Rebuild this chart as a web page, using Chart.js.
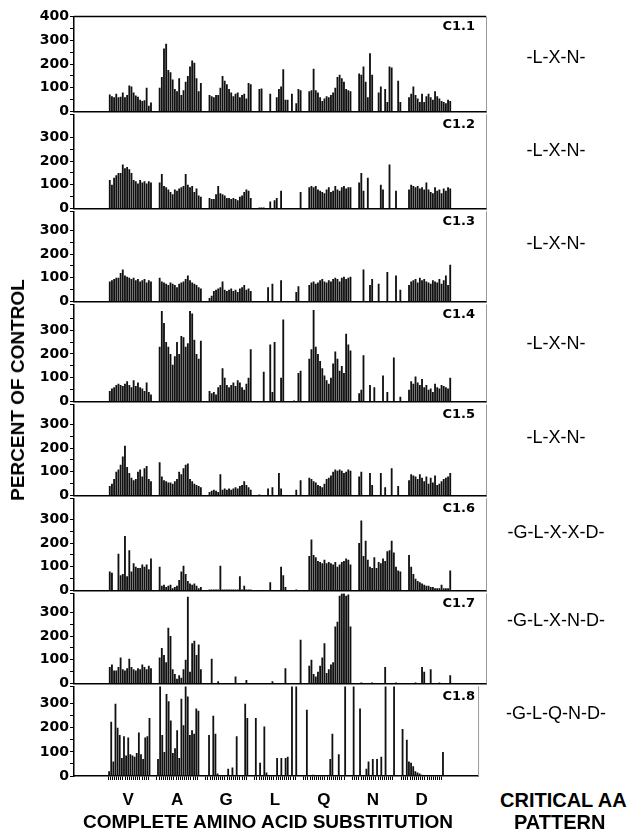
<!DOCTYPE html>
<html>
<head>
<meta charset="utf-8">
<script src="https://cdn.jsdelivr.net/npm/chart.js@4.4.1/dist/chart.umd.min.js"></script>
<style>
  body { margin: 0; background: #fff; }
  #page { position: relative; width: 643px; height: 832px; overflow: hidden; background: #fff; font-family: "Liberation Sans", Arial, sans-serif; color: #000; }
  canvas { position: absolute; left: 0; }
  .lbl { position: absolute; white-space: nowrap; }
  .panel { font: bold 13px "DejaVu Sans", sans-serif; }
  .pattern { font-size: 18px; transform: translate(-50%, -50%); }
  .title { font-weight: bold; font-size: 19px; transform: translate(-50%, -50%); }
  .crit { font-weight: bold; font-size: 20px; transform: translateY(-50%); }
</style>
</head>
<body>
<div id="page"></div>
<script>
// amino acid positions that were substituted
const groups = ["V", "A", "G", "L", "Q", "N", "D"];
const panelNames = ["C1.1", "C1.2", "C1.3", "C1.4", "C1.5", "C1.6", "C1.7", "C1.8"];
const patterns = ["-L-X-N-", "-L-X-N-", "-L-X-N-", "-L-X-N-", "-L-X-N-", "-G-L-X-X-D-", "-G-L-X-N-D-", "-G-L-Q-N-D-"];
const yTicks = [0, 100, 200, 300, 400];

// percent of control, one row of 20 substitutions per position
const c11 = [
  [72, 65, 60, 75, 60, 62, 80, 60, 70, 110, 105, 80, 68, 62, 50, 45, 48, 100, 25, 38],
  [100, 145, 265, 285, 175, 165, 135, 95, 85, 140, 70, 90, 125, 150, 190, 215, 205, 140, 85, 120],
  [70, 65, 60, 70, 70, 100, 150, 130, 115, 95, 80, 65, 75, 80, 60, 70, 75, 55, 120, 115],
  [95, 97, 0, 0, 0, 75, 0, 0, 60, 95, 105, 178, 50, 50, 0, 75, 0, 35, 95, 90],
  [85, 90, 180, 90, 80, 60, 45, 55, 65, 60, 70, 80, 100, 145, 155, 140, 125, 95, 90, 85],
  [160, 155, 190, 125, 60, 245, 155, 0, 0, 80, 105, 0, 95, 40, 190, 185, 0, 0, 130, 40],
  [60, 75, 105, 70, 55, 40, 75, 40, 65, 75, 60, 50, 85, 65, 55, 45, 40, 35, 50, 45]
];
const c12 = [
  [120, 100, 130, 140, 150, 150, 185, 170, 175, 165, 150, 120, 115, 105, 120, 110, 115, 105, 115, 110],
  [110, 145, 95, 90, 80, 70, 60, 80, 75, 85, 90, 95, 145, 100, 90, 95, 70, 85, 55, 50],
  [45, 40, 40, 60, 95, 65, 60, 55, 45, 45, 40, 45, 40, 35, 50, 55, 70, 80, 75, 45],
  [5, 5, 5, 0, 0, 30, 0, 35, 45, 0, 75, 0, 0, 0, 0, 0, 0, 0, 0, 70],
  [90, 95, 90, 95, 80, 75, 70, 65, 80, 90, 70, 75, 95, 80, 75, 90, 95, 85, 90, 90],
  [110, 150, 75, 0, 130, 0, 0, 0, 0, 0, 100, 80, 0, 0, 185, 0, 0, 75, 0, 0],
  [80, 100, 95, 90, 95, 85, 90, 80, 110, 80, 70, 65, 90, 75, 80, 65, 85, 75, 90, 85]
];
const c13 = [
  [85, 90, 95, 100, 100, 120, 135, 110, 105, 100, 95, 100, 90, 95, 85, 90, 95, 80, 90, 85],
  [100, 85, 80, 75, 70, 80, 75, 70, 60, 75, 80, 85, 95, 110, 90, 80, 75, 70, 60, 55],
  [15, 25, 45, 50, 55, 60, 85, 50, 45, 50, 55, 45, 50, 40, 55, 60, 70, 50, 55, 45],
  [0, 0, 0, 0, 60, 0, 75, 0, 0, 0, 90, 0, 0, 0, 0, 0, 0, 40, 65, 0],
  [70, 80, 85, 75, 80, 90, 95, 85, 80, 90, 85, 95, 100, 95, 85, 100, 105, 95, 100, 105],
  [0, 0, 135, 0, 0, 70, 95, 0, 0, 75, 0, 0, 0, 125, 0, 0, 0, 110, 0, 50],
  [70, 85, 90, 95, 80, 100, 90, 95, 85, 80, 75, 90, 85, 80, 95, 75, 90, 110, 70, 155]
];
const c14 = [
  [45, 55, 60, 70, 75, 70, 65, 75, 85, 70, 60, 90, 65, 80, 60, 55, 45, 80, 40, 30],
  [230, 380, 330, 250, 230, 200, 155, 190, 250, 200, 275, 270, 230, 245, 380, 370, 260, 200, 180, 255],
  [45, 35, 40, 30, 60, 70, 140, 100, 70, 60, 70, 80, 65, 90, 80, 60, 50, 75, 100, 220],
  [0, 0, 125, 0, 0, 240, 40, 250, 0, 0, 100, 345, 0, 0, 0, 0, 5, 0, 120, 130],
  [180, 220, 385, 230, 200, 170, 140, 110, 90, 75, 100, 160, 210, 180, 130, 150, 120, 285, 240, 215],
  [35, 50, 195, 0, 0, 70, 0, 60, 0, 0, 0, 110, 0, 40, 0, 0, 185, 0, 0, 20],
  [50, 85, 75, 105, 80, 70, 95, 60, 70, 50, 55, 40, 75, 60, 55, 70, 65, 60, 55, 100]
];
const c15 = [
  [40, 50, 70, 100, 110, 130, 165, 210, 120, 95, 75, 65, 70, 100, 110, 80, 115, 125, 70, 60],
  [140, 80, 65, 60, 55, 55, 50, 60, 70, 100, 90, 115, 130, 135, 70, 60, 50, 45, 40, 35],
  [15, 20, 25, 20, 15, 90, 25, 30, 25, 30, 25, 30, 35, 30, 40, 45, 60, 45, 35, 25],
  [5, 0, 0, 0, 30, 0, 35, 0, 0, 95, 30, 0, 0, 0, 0, 0, 0, 25, 0, 65],
  [75, 70, 60, 55, 45, 40, 35, 50, 70, 75, 85, 100, 110, 105, 110, 105, 95, 100, 110, 105],
  [80, 100, 0, 0, 0, 95, 45, 0, 0, 0, 95, 0, 35, 0, 0, 115, 0, 0, 40, 0],
  [65, 90, 85, 80, 70, 90, 75, 60, 80, 50, 75, 55, 85, 45, 50, 60, 70, 75, 80, 95]
];
const c16 = [
  [80, 75, 0, 0, 155, 65, 70, 230, 60, 170, 80, 115, 100, 95, 95, 110, 100, 110, 90, 135],
  [100, 20, 25, 15, 20, 25, 10, 15, 20, 45, 80, 105, 70, 40, 30, 25, 30, 20, 10, 15],
  [5, 5, 5, 5, 5, 105, 5, 5, 5, 5, 5, 5, 5, 5, 60, 5, 20, 5, 5, 5],
  [0, 0, 0, 0, 0, 35, 0, 0, 0, 0, 100, 65, 15, 0, 0, 0, 0, 5, 0, 0],
  [145, 215, 150, 140, 125, 120, 115, 130, 115, 120, 115, 110, 120, 100, 110, 120, 125, 135, 130, 110],
  [200, 295, 145, 210, 130, 100, 95, 140, 95, 120, 115, 135, 125, 165, 170, 210, 160, 100, 85, 80],
  [150, 100, 70, 50, 40, 35, 30, 25, 20, 20, 15, 15, 10, 10, 10, 25, 10, 10, 10, 85]
];
const c17 = [
  [70, 80, 55, 55, 70, 110, 60, 55, 65, 105, 70, 60, 55, 65, 60, 80, 70, 60, 75, 65],
  [110, 150, 120, 90, 235, 200, 60, 40, 20, 35, 25, 60, 100, 365, 50, 170, 180, 120, 165, 60],
  [0, 105, 0, 0, 10, 0, 0, 0, 0, 0, 0, 0, 30, 0, 0, 0, 0, 15, 0, 0],
  [0, 0, 0, 0, 0, 0, 10, 0, 0, 0, 0, 0, 65, 0, 0, 0, 0, 0, 0, 185],
  [75, 100, 40, 30, 50, 75, 110, 170, 45, 60, 80, 90, 240, 260, 370, 380, 380, 370, 375, 240],
  [0, 5, 0, 0, 0, 0, 5, 0, 0, 0, 0, 0, 70, 0, 0, 0, 0, 5, 0, 0],
  [0, 0, 0, 5, 0, 0, 70, 50, 0, 0, 60, 0, 0, 0, 5, 0, 0, 0, 0, 35]
];
const c18 = [
  [20, 225, 60, 300, 200, 170, 75, 165, 85, 160, 90, 85, 80, 95, 180, 90, 70, 160, 165, 240],
  [70, 390, 170, 100, 340, 310, 230, 95, 115, 190, 75, 320, 210, 390, 330, 170, 190, 175, 280, 270],
  [0, 170, 0, 250, 175, 10, 0, 0, 0, 0, 30, 0, 35, 0, 165, 0, 0, 0, 300, 240],
  [240, 0, 55, 0, 205, 15, 0, 0, 0, 0, 75, 0, 75, 0, 75, 80, 0, 390, 0, 390],
  [0, 275, 0, 0, 5, 0, 0, 0, 0, 0, 0, 0, 70, 175, 0, 0, 90, 0, 0, 390],
  [390, 0, 0, 280, 0, 0, 30, 60, 0, 70, 0, 70, 0, 80, 0, 390, 0, 0, 0, 390],
  [195, 0, 150, 60, 55, 40, 20, 15, 10, 5, 0, 0, 0, 0, 0, 0, 0, 0, 0, 100]
];
const panels = [c11, c12, c13, c14, c15, c16, c17, c18];

// layout (px)
const zeroLines = [113, 210, 303, 403, 497, 592, 685, 776];
const patternY = [57, 150, 243, 343, 437, 532, 620, 713];
const firstTop = 15;
const pxPer100 = 24.5;
const axisLeft = 74;
const axisRight = 486;
const padSlots = 16, gapSlots = 3;

// category slots: empty padding, 20 bars per position, small gaps
const labels = [];
const isBar = [];
const addEmpty = n => { for (let i = 0; i < n; i++) { labels.push(""); isBar.push(false); } };
addEmpty(padSlots);
groups.forEach((g, gi) => {
  for (let j = 0; j < 20; j++) { labels.push(j === 9 ? g : ""); isBar.push(true); }
  if (gi < groups.length - 1) addEmpty(gapSlots);
});
addEmpty(padSlots);

function flatten(rows) {
  const out = [];
  for (let i = 0; i < padSlots; i++) out.push(null);
  rows.forEach((row, gi) => {
    row.forEach(v => out.push(v));
    if (gi < rows.length - 1) for (let j = 0; j < gapSlots; j++) out.push(null);
  });
  for (let i = 0; i < padSlots; i++) out.push(null);
  return out;
}

const framePlugin = {
  id: "frame",
  afterDraw(chart, args, opts) {
    const { ctx, chartArea } = chart;
    ctx.save();
    ctx.strokeStyle = "#9a9a9a";
    ctx.lineWidth = 1;
    ctx.beginPath();
    ctx.moveTo(chartArea.right + 0.5, chartArea.top);
    ctx.lineTo(chartArea.right + 0.5, chartArea.bottom);
    ctx.stroke();
    if (opts.top) {
      ctx.strokeStyle = "#000";
      ctx.lineWidth = 1.5;
      ctx.beginPath();
      ctx.moveTo(chartArea.left, chartArea.top);
      ctx.lineTo(chartArea.right, chartArea.top);
      ctx.stroke();
    }
    ctx.restore();
  }
};

const page = document.getElementById("page");

panels.forEach((rows, k) => {
  const last = k === panels.length - 1;
  const top = k === 0 ? firstTop : zeroLines[k - 1];
  const h = zeroLines[k] - top;
  const padTop = 8;
  const padBottom = last ? 0 : 8;
  const axisH = last ? 40 : 0;

  const canvas = document.createElement("canvas");
  canvas.width = axisRight + 1;
  canvas.height = h + padTop + padBottom + axisH;
  canvas.style.top = (top - padTop) + "px";
  page.appendChild(canvas);

  new Chart(canvas, {
    type: "bar",
    data: {
      labels: labels,
      datasets: [{
        data: flatten(rows),
        backgroundColor: "#111",
        barPercentage: 0.85,
        categoryPercentage: 1
      }]
    },
    options: {
      responsive: false,
      animation: false,
      devicePixelRatio: 1,
      layout: { padding: { top: padTop, bottom: padBottom, left: 0, right: 1 } },
      plugins: {
        legend: { display: false },
        tooltip: { enabled: false },
        frame: { top: k === 0 }
      },
      scales: {
        x: {
          afterFit: s => { s.height = axisH; },
          border: { display: true, color: "#000", width: 1.5 },
          grid: {
            display: last,
            drawOnChartArea: false,
            tickLength: 4,
            tickColor: c => (isBar[c.index] ? "#000" : "rgba(0,0,0,0)")
          },
          ticks: {
            display: last,
            autoSkip: false,
            maxRotation: 0,
            minRotation: 0,
            padding: 10,
            color: "#000",
            font: { family: "Liberation Sans", weight: "bold", size: 17 },
            callback: (v, i) => labels[i]
          }
        },
        y: {
          min: 0,
          max: h / pxPer100 * 100,
          afterFit: s => { s.width = axisLeft; },
          border: { display: true, color: "#000", width: 1.5 },
          grid: { drawOnChartArea: false, tickLength: 4, tickColor: "#000" },
          ticks: {
            stepSize: 50,
            autoSkip: false,
            padding: 1,
            color: "#000",
            font: { family: "DejaVu Sans", weight: "bold", size: 14 },
            callback: v => (yTicks.includes(v) && (v < 400 || k === 0) ? v : "")
          }
        }
      }
    },
    plugins: [framePlugin]
  });

  const name = document.createElement("div");
  name.className = "lbl panel";
  name.textContent = panelNames[k];
  name.style.right = (643 - 475) + "px";
  name.style.top = (top + 3) + "px";
  page.appendChild(name);

  const pat = document.createElement("div");
  pat.className = "lbl pattern";
  pat.textContent = patterns[k];
  pat.style.left = "556px";
  pat.style.top = patternY[k] + "px";
  page.appendChild(pat);
});

function addText(cls, text, x, y, rotate) {
  const d = document.createElement("div");
  d.className = "lbl " + cls;
  d.textContent = text;
  d.style.left = x + "px";
  d.style.top = y + "px";
  if (rotate) d.style.transform = "translate(-50%, -50%) rotate(-90deg)";
  page.appendChild(d);
}
addText("title", "PERCENT OF CONTROL", 18, 390, true);
addText("title", "COMPLETE AMINO ACID SUBSTITUTION", 268, 822, false);
addText("crit", "CRITICAL AA", 500, 800, false);
addText("crit", "PATTERN", 514, 822, false);
</script>
</body>
</html>
